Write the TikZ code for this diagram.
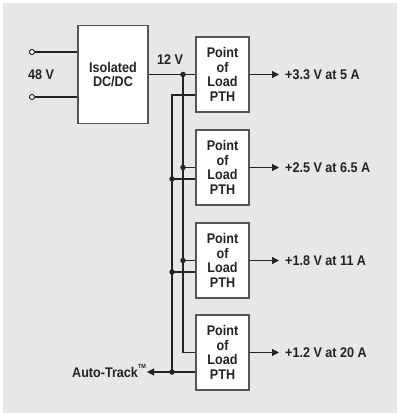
\documentclass[tikz,border=0pt]{standalone}
\usepackage{fontspec}
\setmainfont{Liberation Sans}[FakeStretch=0.9]
\usetikzlibrary{arrows.meta}
\definecolor{bg}{RGB}{230,231,232}
\definecolor{ln}{RGB}{35,35,35}
\definecolor{bd}{RGB}{85,85,85}
\begin{document}
\begin{tikzpicture}[x=1pt,y=-1pt,
 box/.style={draw=bd,line width=1.1pt,fill=white,minimum width=53pt,minimum height=75pt,align=center,inner sep=0pt,font=\fontsize{14}{14.7}\selectfont\bfseries,text=ln},
 wire/.style={draw=ln,line width=1.1pt},
 arr/.style={wire,-{Triangle[length=7pt,width=7pt]}},
 dot/.style={circle,fill=ln,inner sep=0pt,minimum size=5.5pt},
 term/.style={circle,draw=ln,fill=white,line width=1pt,inner sep=0pt,minimum size=5pt},
 lbl/.style={font=\fontsize{14}{14.7}\selectfont\bfseries,text=ln,inner sep=0pt}]
\useasboundingbox (0,0) rectangle (400,417);
\fill[white] (0,0) rectangle (400,417);
\fill[bg] (3,3) rectangle (397,413);
% main converter
\node[box,minimum width=70pt,minimum height=98pt] (dc) at (113,74.5) {Isolated\\DC/DC};
\node[term] (t1) at (32,52) {};
\node[term] (t2) at (32,97) {};
\draw[wire] (t1.east) -- (dc.west |- t1);
\draw[wire] (t2.east) -- (dc.west |- t2);
\node[lbl] (vin) at (41,75) {48 V};
% point of load boxes
\node[box] (p1) at (222.5,74.5) {Point\\of\\Load\\PTH};
\node[box] (p2) at (222.5,167.5) {Point\\of\\Load\\PTH};
\node[box] (p3) at (222.5,260.5) {Point\\of\\Load\\PTH};
\node[box] (p4) at (222.5,352.5) {Point\\of\\Load\\PTH};
% 12 V bus
\node[lbl] (v12) at (170,60) {12 V};
\coordinate (ia) at (183,74.5);
\coordinate (ib) at (183,167.5);
\coordinate (ic) at (183,260.5);
\coordinate (id) at (183,352.5);
\draw[wire] (dc.east) -- (p1.west);
\draw[wire] (ia) -- (id) -- (p4.west);
\draw[wire] (ib) -- (p2.west);
\draw[wire] (ic) -- (p3.west);
% Auto-Track bus
\coordinate (ta) at (172,95);
\coordinate (tb) at (172,179);
\coordinate (tc) at (172,272);
\coordinate (td) at (172,372);
\draw[wire] (p1.west |- ta) -- (ta) -- (td) -- (p4.west |- td);
\draw[wire] (tb) -- (p2.west |- tb);
\draw[wire] (tc) -- (p3.west |- tc);
\node[lbl,anchor=east] (at) at (146,371) {Auto-Track\raisebox{0.62em}{\fontsize{6}{6}\selectfont TM}};
\draw[arr] (td) -- ([xshift=1pt]at.east |- td);
% dots
\foreach \c in {ia,ib,ic,tb,tc,td} \node[dot] at (\c) {};
% outputs
\node[lbl,anchor=west] (o1) at (285,74.5) {+3.3 V at 5 A};
\node[lbl,anchor=west] (o2) at (285,167.5) {+2.5 V at 6.5 A};
\node[lbl,anchor=west] (o3) at (285,260.5) {+1.8 V at 11 A};
\node[lbl,anchor=west] (o4) at (285,352.5) {+1.2 V at 20 A};
\draw[arr] (p1.east) -- ([xshift=-6pt]o1.west);
\draw[arr] (p2.east) -- ([xshift=-6pt]o2.west);
\draw[arr] (p3.east) -- ([xshift=-6pt]o3.west);
\draw[arr] (p4.east) -- ([xshift=-6pt]o4.west);
\end{tikzpicture}
\end{document}
